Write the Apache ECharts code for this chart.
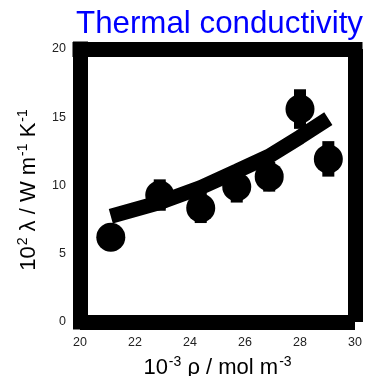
<!DOCTYPE html>
<html>
<head>
<meta charset="utf-8">
<script src="https://cdn.jsdelivr.net/npm/echarts@6/dist/echarts.min.js"></script>
<style>
  html, body { margin: 0; padding: 0; background: #fff; }
  #chart { width: 371px; height: 376px; }
</style>
</head>
<body>
<div id="chart"></div>
<script>
// Measured density (10^-3 mol m^-3) and thermal conductivity (10^2 W m^-1 K^-1)
const density = [21.12, 22.9, 24.39, 25.7, 26.88, 28.0, 29.03];
const conductivity = [6.2, 9.3, 8.35, 9.9, 10.65, 15.6, 11.95];
const uncertainty = [0.9, 1.15, 1.1, 1.15, 1.1, 1.45, 1.3];
// Fitted curve evaluated at the measured densities
const fitted = [7.75, 8.75, 9.85, 11.05, 12.15, 13.55, 14.9];

const xTicks = [20, 22, 24, 26, 28, 30];
const yTicks = [0, 5, 10, 15, 20];

const FONT = '"Liberation Sans", Arial, sans-serif';
const FRAME = 15;

const chart = echarts.init(document.getElementById('chart'), null, { renderer: 'canvas' });

const supRich = {
  base: { fontSize: 22, fontFamily: FONT, color: '#000', lineHeight: 25, verticalAlign: 'bottom' },
  sup: { fontSize: 14, fontFamily: FONT, color: '#000', lineHeight: 25, verticalAlign: 'top', padding: [1, 0, 0, 1] }
};

function frameAxis(cap) {
  return { show: true, onZero: false, lineStyle: { color: '#000', width: FRAME, cap: cap } };
}

const option = {
  backgroundColor: '#fff',
  animation: false,
  title: {
    text: 'Thermal conductivity',
    right: 8,
    top: 9,
    padding: 0,
    textStyle: { color: '#0000ff', fontSize: 31.3, fontWeight: 'normal', fontFamily: FONT }
  },
  grid: { left: 80, top: 49, right: 16, bottom: 54, outerBoundsMode: 'none', containLabel: false },
  xAxis: [
    {
      type: 'value', position: 'bottom', min: 20, max: 30, interval: 2,
      axisLine: frameAxis('butt'),
      axisTick: { show: false }, splitLine: { show: false },
      axisLabel: {
        margin: 14, fontSize: 12.5, color: '#222', fontFamily: FONT,
        customValues: xTicks, formatter: v => String(v)
      },
      name: '{base|10}{sup|-3}{base| ρ / mol m}{sup|-3}',
      nameLocation: 'middle', nameGap: 26,
      nameTextStyle: { rich: supRich, padding: [0, 0, 0, 0] }
    },
    {
      type: 'value', position: 'top', min: 20, max: 30, interval: 2,
      axisLine: frameAxis('square'),
      axisTick: { show: false }, splitLine: { show: false }, axisLabel: { show: false }
    }
  ],
  yAxis: [
    {
      type: 'value', position: 'left', min: 0, max: 20, interval: 5,
      axisLine: frameAxis('square'),
      axisTick: { show: false }, splitLine: { show: false },
      axisLabel: {
        margin: 14, fontSize: 12.5, color: '#222', fontFamily: FONT,
        customValues: yTicks, formatter: v => String(v)
      },
      name: '{base|10}{sup|2}{base| λ / W m}{sup|-1}{base| K}{sup|-1}',
      nameLocation: 'middle', nameGap: 40, nameRotate: 90,
      nameTextStyle: { rich: supRich, padding: [0, 9, 0, 0] }
    },
    {
      type: 'value', position: 'right', min: 0, max: 20, interval: 5,
      axisLine: frameAxis('butt'),
      axisTick: { show: false }, splitLine: { show: false }, axisLabel: { show: false }
    }
  ],
  series: [
    {
      name: 'fit',
      type: 'line',
      data: density.map((x, i) => [x, fitted[i]]),
      showSymbol: false,
      symbol: 'none',
      lineStyle: { color: '#000', width: 15, cap: 'butt', join: 'bevel' },
      z: 2
    },
    {
      name: 'uncertainty',
      type: 'custom',
      data: density.map((x, i) => [x, conductivity[i], uncertainty[i]]),
      renderItem: function (params, api) {
        const x = api.value(0), y = api.value(1), e = api.value(2);
        const p1 = api.coord([x, y - e]);
        const p2 = api.coord([x, y + e]);
        return {
          type: 'line',
          shape: { x1: p1[0], y1: p1[1], x2: p2[0], y2: p2[1] },
          style: { stroke: '#000', lineWidth: 12, lineCap: 'butt' }
        };
      },
      z: 3
    },
    {
      name: 'measured',
      type: 'scatter',
      data: density.map((x, i) => [x, conductivity[i]]),
      symbol: 'circle',
      symbolSize: 29,
      itemStyle: { color: '#000', opacity: 1 },
      z: 4
    }
  ]
};

chart.setOption(option);
</script>
</body>
</html>
